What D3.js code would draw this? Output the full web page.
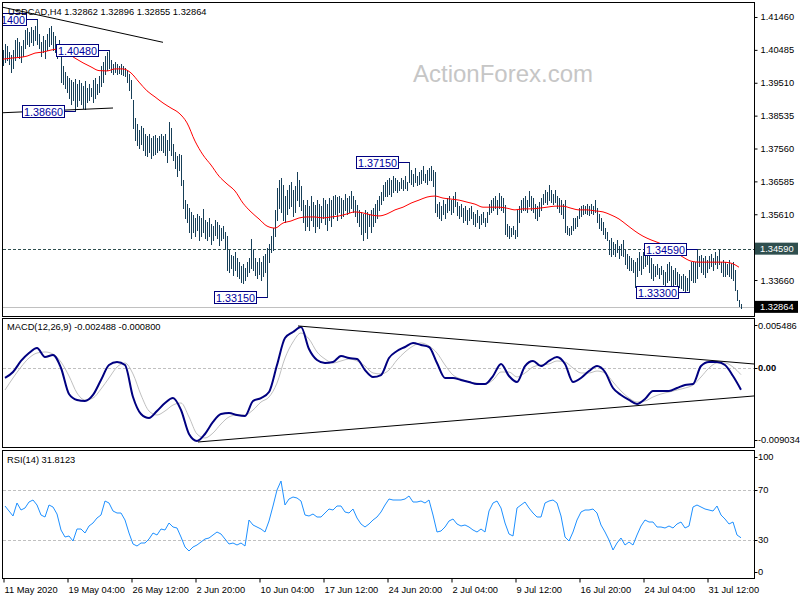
<!DOCTYPE html>
<html><head><meta charset="utf-8">
<script src="https://cdn.jsdelivr.net/npm/d3@7"></script>
<style>
body{margin:0;background:#fff}
svg{display:block}
text{font-family:"Liberation Sans",Arial,sans-serif}
</style>
</head><body>
<svg id="c" width="800" height="600"></svg>
<script>
// ---------------- DATA ----------------
const symbolTitle = "USDCAD,H4  1.32862 1.32896 1.32855 1.32864";
const macdTitle = "MACD(12,26,9) -0.002488 -0.000800";
const rsiTitle = "RSI(14) 31.8123";
const watermark = "ActionForex.com";

const highs = [
1.4048,1.4066,1.4060,1.4042,1.4033,1.4048,1.4078,1.4083,1.4072,1.4060,
1.4078,1.4107,1.4113,1.4101,1.4116,1.4107,1.4119,1.4140,1.4095,1.4072,
1.4089,1.4078,1.4095,1.4113,1.4119,1.4101,1.4089,1.4066,1.4078,1.4048,
1.4001,1.3983,1.3971,1.3965,1.3959,1.3953,1.3962,1.3947,1.3959,1.3950,
1.3941,1.3956,1.3935,1.3947,1.3935,1.3959,1.3965,1.3947,1.3971,1.4001,
1.4012,1.4030,1.4042,1.4048,1.4018,1.4007,1.4012,1.4007,1.4001,1.4007,
1.4001,1.3995,1.3989,1.3977,1.3959,1.3900,1.3846,1.3829,1.3811,1.3823,
1.3817,1.3799,1.3793,1.3799,1.3787,1.3793,1.3796,1.3787,1.3793,1.3799,
1.3793,1.3799,1.3781,1.3835,1.3817,1.3769,1.3746,1.3734,1.3740,1.3737,
1.3663,1.3603,1.3591,1.3579,1.3568,1.3559,1.3550,1.3562,1.3556,1.3550,
1.3577,1.3544,1.3538,1.3550,1.3532,1.3526,1.3544,1.3538,1.3529,1.3520,
1.3526,1.3508,1.3496,1.3455,1.3440,1.3437,1.3449,1.3431,1.3419,1.3407,
1.3413,1.3402,1.3419,1.3431,1.3488,1.3455,1.3431,1.3419,1.3431,1.3419,
1.3437,1.3443,1.3461,1.3473,1.3496,1.3520,1.3574,1.3639,1.3663,1.3668,
1.3648,1.3615,1.3633,1.3648,1.3657,1.3633,1.3645,1.3686,1.3663,1.3645,
1.3603,1.3588,1.3603,1.3585,1.3615,1.3597,1.3588,1.3603,1.3591,1.3585,
1.3609,1.3603,1.3591,1.3609,1.3603,1.3615,1.3618,1.3612,1.3615,1.3609,
1.3603,1.3621,1.3609,1.3615,1.3630,1.3615,1.3603,1.3588,1.3574,1.3568,
1.3562,1.3574,1.3568,1.3559,1.3574,1.3579,1.3591,1.3603,1.3615,1.3627,
1.3648,1.3657,1.3663,1.3668,1.3663,1.3674,1.3668,1.3663,1.3657,1.3668,
1.3663,1.3674,1.3657,1.3715,1.3692,1.3680,1.3698,1.3674,1.3686,1.3692,
1.3704,1.3680,1.3692,1.3698,1.3704,1.3692,1.3686,1.3591,1.3597,1.3585,
1.3603,1.3591,1.3609,1.3615,1.3603,1.3615,1.3627,1.3597,1.3585,1.3591,
1.3579,1.3585,1.3574,1.3579,1.3585,1.3568,1.3562,1.3574,1.3556,1.3562,
1.3568,1.3550,1.3568,1.3591,1.3603,1.3609,1.3615,1.3603,1.3624,1.3615,
1.3609,1.3588,1.3532,1.3526,1.3520,1.3526,1.3514,1.3574,1.3585,1.3603,
1.3609,1.3615,1.3603,1.3630,1.3615,1.3609,1.3591,1.3585,1.3597,1.3609,
1.3621,1.3633,1.3627,1.3648,1.3633,1.3621,1.3633,1.3615,1.3609,1.3603,
1.3591,1.3603,1.3526,1.3520,1.3526,1.3550,1.3550,1.3556,1.3579,1.3585,
1.3588,1.3585,1.3591,1.3585,1.3591,1.3585,1.3603,1.3579,1.3562,1.3550,
1.3538,1.3520,1.3508,1.3485,1.3491,1.3479,1.3473,1.3485,1.3467,1.3473,
1.3485,1.3455,1.3443,1.3437,1.3431,1.3425,1.3419,1.3431,1.3449,1.3437,
1.3449,1.3455,1.3461,1.3443,1.3431,1.3413,1.3407,1.3413,1.3402,1.3407,
1.3396,1.3390,1.3413,1.3419,1.3407,1.3396,1.3402,1.3390,1.3384,1.3378,
1.3384,1.3378,1.3372,1.3396,1.3419,1.3419,1.3419,1.3459,1.3437,1.3440,
1.3431,1.3437,1.3425,1.3437,1.3443,1.3431,1.3449,1.3437,1.3455,1.3419,
1.3425,1.3419,1.3413,1.3425,1.3413,1.3419,1.3396,1.3336,1.3307,1.3295
];
const lows = [
1.4004,1.4012,1.4018,1.4007,1.3983,1.3995,1.4018,1.4030,1.4024,1.4012,
1.4030,1.4054,1.4066,1.4060,1.4072,1.4063,1.4078,1.4066,1.4054,1.4030,
1.4042,1.4024,1.4048,1.4060,1.4066,1.4048,1.4042,1.4024,1.4030,1.3953,
1.3947,1.3935,1.3924,1.3906,1.3888,1.3900,1.3866,1.3882,1.3900,1.3888,
1.3876,1.3873,1.3894,1.3900,1.3912,1.3894,1.3906,1.3918,1.3924,1.3941,
1.3953,1.3977,1.3989,1.3995,1.3983,1.3977,1.3983,1.3977,1.3980,1.3977,
1.3974,1.3971,1.3953,1.3930,1.3906,1.3817,1.3781,1.3766,1.3758,1.3769,
1.3752,1.3737,1.3734,1.3746,1.3728,1.3737,1.3740,1.3746,1.3752,1.3752,
1.3746,1.3737,1.3716,1.3752,1.3737,1.3722,1.3698,1.3674,1.3692,1.3648,
1.3579,1.3550,1.3538,1.3508,1.3491,1.3508,1.3496,1.3514,1.3485,1.3496,
1.3508,1.3491,1.3485,1.3496,1.3473,1.3485,1.3499,1.3491,1.3470,1.3485,
1.3491,1.3461,1.3396,1.3390,1.3402,1.3381,1.3396,1.3378,1.3372,1.3360,
1.3357,1.3366,1.3378,1.3390,1.3402,1.3396,1.3381,1.3372,1.3384,1.3366,
1.3378,1.3390,1.3315,1.3419,1.3449,1.3455,1.3496,1.3544,1.3579,1.3568,
1.3544,1.3538,1.3562,1.3579,1.3585,1.3556,1.3568,1.3603,1.3585,1.3574,
1.3538,1.3514,1.3526,1.3514,1.3544,1.3526,1.3508,1.3526,1.3520,1.3538,
1.3550,1.3532,1.3514,1.3544,1.3526,1.3550,1.3562,1.3544,1.3568,1.3550,
1.3556,1.3574,1.3562,1.3568,1.3579,1.3568,1.3556,1.3538,1.3526,1.3502,
1.3485,1.3508,1.3491,1.3526,1.3508,1.3526,1.3538,1.3550,1.3574,1.3591,
1.3603,1.3615,1.3615,1.3621,1.3615,1.3627,1.3633,1.3627,1.3633,1.3639,
1.3633,1.3639,1.3633,1.3657,1.3651,1.3645,1.3657,1.3648,1.3651,1.3654,
1.3663,1.3657,1.3651,1.3663,1.3663,1.3645,1.3568,1.3556,1.3550,1.3544,
1.3562,1.3550,1.3568,1.3574,1.3562,1.3568,1.3585,1.3559,1.3550,1.3556,
1.3538,1.3544,1.3532,1.3544,1.3550,1.3532,1.3526,1.3538,1.3520,1.3532,
1.3538,1.3526,1.3538,1.3562,1.3568,1.3574,1.3579,1.3562,1.3579,1.3574,
1.3568,1.3502,1.3496,1.3491,1.3496,1.3502,1.3491,1.3496,1.3538,1.3568,
1.3574,1.3574,1.3568,1.3585,1.3574,1.3568,1.3550,1.3544,1.3556,1.3574,
1.3591,1.3597,1.3591,1.3603,1.3597,1.3591,1.3597,1.3579,1.3568,1.3562,
1.3550,1.3508,1.3502,1.3499,1.3502,1.3514,1.3520,1.3526,1.3550,1.3556,
1.3562,1.3565,1.3562,1.3559,1.3565,1.3562,1.3568,1.3538,1.3520,1.3514,
1.3502,1.3491,1.3485,1.3443,1.3437,1.3443,1.3437,1.3449,1.3431,1.3440,
1.3437,1.3413,1.3402,1.3396,1.3396,1.3390,1.3345,1.3378,1.3396,1.3384,
1.3402,1.3407,1.3413,1.3390,1.3372,1.3366,1.3378,1.3384,1.3372,1.3384,
1.3354,1.3342,1.3360,1.3366,1.3342,1.3336,1.3354,1.3336,1.3345,1.3342,
1.3336,1.3333,1.3336,1.3330,1.3366,1.3360,1.3360,1.3372,1.3407,1.3390,
1.3384,1.3375,1.3390,1.3402,1.3407,1.3396,1.3413,1.3402,1.3413,1.3390,
1.3378,1.3378,1.3384,1.3378,1.3372,1.3366,1.3336,1.3307,1.3289,1.3283
];

// moving average (red), one value every 4 bars from bar 0
const emaValues = [
1.4021,1.4024,1.4026,1.4030,1.4039,1.4042,1.4048,1.4051,1.4039,1.4024,
1.4010,1.3998,1.3987,1.3986,1.3992,1.3992,1.3980,1.3953,1.3927,1.3909,
1.3891,1.3876,1.3861,1.3832,1.3778,1.3737,1.3707,1.3674,1.3651,1.3630,
1.3594,1.3568,1.3547,1.3526,1.3520,1.3535,1.3541,1.3550,1.3553,1.3553,
1.3550,1.3553,1.3556,1.3562,1.3568,1.3565,1.3559,1.3556,1.3562,1.3574,
1.3582,1.3594,1.3603,1.3612,1.3615,1.3609,1.3606,1.3603,1.3597,1.3591,
1.3582,1.3582,1.3582,1.3579,1.3574,1.3577,1.3577,1.3579,1.3582,1.3585,
1.3585,1.3579,1.3574,1.3574,1.3571,1.3568,1.3559,1.3547,1.3529,1.3511,
1.3496,1.3485,1.3476,1.3464,1.3449,1.3434,1.3422,1.3419,1.3419,1.3419,
1.3419,1.3416,1.3404
];

// MACD main and signal, one value every 4 bars from bar 1
const macdMain = [
-0.00117,-0.00050,0.00074,0.00163,0.00220,0.00119,0.00141,-0.00005,-0.00297,-0.00364,
-0.00376,-0.00308,-0.00140,0.00029,0.00062,0.00029,-0.00331,-0.00522,-0.00567,-0.00488,
-0.00398,-0.00342,-0.00477,-0.00746,-0.00825,-0.00746,-0.00611,-0.00522,-0.00510,-0.00533,
-0.00544,-0.00376,-0.00342,-0.00275,0.00029,0.00332,0.00399,0.00455,0.00208,0.00085,
0.00051,0.00062,0.00130,0.00107,0.00096,-0.00028,-0.00106,-0.00084,0.00107,0.00186,
0.00231,0.00276,0.00253,0.00231,0.00051,-0.00117,-0.00117,-0.00140,-0.00162,-0.00185,
-0.00185,-0.00095,0.00040,-0.00095,-0.00162,0.00017,0.00074,0.00017,0.00074,0.00119,
0.00040,-0.00162,-0.00117,-0.00039,0.00017,-0.00050,-0.00230,-0.00308,-0.00364,-0.00409,
-0.00353,-0.00263,-0.00263,-0.00263,-0.00230,-0.00196,-0.00185,0.00017,0.00062,0.00062,
0.00029,-0.00095,-0.002488
];
const macdSignal = [
-0.00252,-0.00117,0.00006,0.00107,0.00163,0.00175,0.00152,0.00062,-0.00095,-0.00286,
-0.00364,-0.00342,-0.00241,-0.00117,0.00006,0.00051,-0.00072,-0.00308,-0.00488,-0.00533,
-0.00488,-0.00421,-0.00398,-0.00555,-0.00746,-0.00791,-0.00735,-0.00634,-0.00555,-0.00533,
-0.00533,-0.00477,-0.00387,-0.00331,-0.00174,0.00107,0.00287,0.00388,0.00321,0.00175,
0.00096,0.00051,0.00074,0.00096,0.00074,0.00017,-0.00061,-0.00072,-0.00028,0.00085,
0.00175,0.00242,0.00276,0.00242,0.00163,0.00029,-0.00084,-0.00129,-0.00162,-0.00174,
-0.00185,-0.00140,-0.00050,-0.00050,-0.00106,-0.00061,0.00006,0.00029,0.00040,0.00074,
0.00062,-0.00005,-0.00061,-0.00061,-0.00039,-0.00061,-0.00162,-0.00263,-0.00342,-0.00387,
-0.00376,-0.00331,-0.00297,-0.00275,-0.00252,-0.00230,-0.00196,-0.00106,-0.00005,0.00051,
0.00051,0.00006,-0.00080
];

// RSI(14), one value every 2 bars from bar 1
const rsiValues = [
57.2,53.2,49.2,59.6,54.0,55.6,60.4,62.0,58.0,50.0,
48.4,58.0,56.4,50.8,38.0,32.4,33.2,29.2,38.8,38.8,
35.6,41.2,43.6,47.6,50.0,61.2,59.6,53.2,51.6,51.6,
46.0,35.6,26.8,25.2,27.6,27.6,30.8,35.6,34.0,38.8,
38.0,43.6,40.4,39.6,32.4,24.4,21.2,24.4,26.0,28.4,
30.8,31.6,34.0,36.4,34.8,30.8,26.8,27.6,26.0,27.6,
25.2,46.0,42.0,40.4,38.8,36.4,45.2,57.2,70.0,77.2,
58.0,62.8,64.4,63.6,61.2,50.0,49.2,50.8,48.4,48.4,
51.6,54.8,54.0,57.2,57.2,52.4,51.6,54.8,47.6,42.8,
40.4,42.8,46.0,48.4,52.4,58.0,62.8,62.0,62.0,62.0,
62.8,65.2,60.4,60.4,61.2,59.6,62.0,50.0,36.4,37.2,
40.4,45.2,46.8,42.8,41.2,42.0,40.4,38.0,36.4,38.8,
36.4,53.2,59.6,61.2,55.6,43.6,34.8,33.2,55.6,58.0,
60.4,55.6,51.6,48.4,48.4,59.6,61.2,62.0,59.6,49.2,
32.4,29.2,36.4,46.0,52.4,54.0,54.0,54.8,51.6,42.0,
36.4,30.0,22.0,27.6,31.6,26.0,28.4,26.0,34.0,41.2,
46.0,44.4,44.4,40.4,40.4,39.6,41.2,39.6,42.8,44.4,
39.6,41.2,56.4,58.0,56.4,54.8,54.0,53.2,57.2,50.0,
46.8,42.8,44.4,34.0,31.8
];

const timeLabels = ["11 May 2020","19 May 04:00","26 May 12:00","2 Jun 20:00","10 Jun 04:00","17 Jun 12:00",
  "24 Jun 20:00","2 Jul 04:00","9 Jul 12:00","16 Jul 20:00","24 Jul 04:00","31 Jul 12:00"];
const timeTickBars = [0,32,64,96,128,160,192,224,256,288,320,352];

const priceTicks = [1.41460,1.40485,1.39510,1.38535,1.37560,1.36585,1.35610,1.33660];
const levelPrice = 1.34590;
const lastPrice = 1.32864;
const macdTicks = [0.005486, 0, -0.009034];
const rsiTicks = [100,70,30,0];
const rsiLevels = [70,30];

const priceLabels = [
  {value:1.41400, bar:17},{value:1.40480, bar:53},{value:1.38660, bar:36},
  {value:1.33150, bar:132},{value:1.37150, bar:203},{value:1.34590, bar:347},{value:1.33300, bar:343}
];
const priceTrendLines = [
  {b0:0, v0:1.41748, b1:80, v1:1.40709},
  {b0:0, v0:1.38621, b1:55, v1:1.38761}
];
const macdTrendLines = [
  {b0:147.5, v0:0.00467, b1:375.5, v1:0.00040},
  {b0:97.5, v0:-0.00836, b1:375.5, v1:-0.00319}
];

// ---------------- DRAW ----------------
const svg = d3.select("#c");
const FS = 9.3;
const x = d3.scaleLinear().domain([0, 375.5]).range([3, 754]);
const yP = d3.scaleLinear().domain([1.32593, 1.41875]).range([316, 3]);
const yM = d3.scaleLinear().domain([-0.009034, 0.005486]).range([448, 318.7]);
const yR = d3.scaleLinear().domain([0, 100]).range([577.5, 452.5]);

const defs = svg.append("defs");
function clip(id, y0, y1){
  defs.append("clipPath").attr("id", id).append("rect")
    .attr("x", 3).attr("y", y0).attr("width", 751).attr("height", y1 - y0);
  return svg.append("g").attr("clip-path", `url(#${id})`);
}
const gMain = clip("cm", 3, 316);
const gMacd = clip("cd", 319, 448);
const gRsi = clip("cr", 451, 578);

// watermark
gMain.append("text").attr("x", 413).attr("y", 82).attr("font-size", 24)
  .attr("fill", "#c6c6c6").text(watermark);

// level line and bid line
gMain.append("line").attr("x1", 3).attr("x2", 754)
  .attr("y1", Math.round(yP(levelPrice)) + 0.5).attr("y2", Math.round(yP(levelPrice)) + 0.5)
  .attr("stroke", "#2f4f4f").attr("stroke-dasharray", "3,2");
gMain.append("line").attr("x1", 3).attr("x2", 754)
  .attr("y1", Math.round(yP(lastPrice)) + 0.5).attr("y2", Math.round(yP(lastPrice)) + 0.5)
  .attr("stroke", "#c0c0c0");

// bars
gMain.append("g").selectAll("line").data(highs).join("line")
  .attr("x1", (d,i) => Math.round(x(i)) + 0.5).attr("x2", (d,i) => Math.round(x(i)) + 0.5)
  .attr("y1", d => Math.round(yP(d)))
  .attr("y2", (d,i) => Math.max(Math.round(yP(lows[i])), Math.round(yP(d)) + 1) + 1)
  .attr("stroke", "#173f58").attr("stroke-width", 1).attr("shape-rendering", "crispEdges");

// moving average
gMain.append("path").datum(emaValues)
  .attr("d", d3.line().curve(d3.curveMonotoneX).x((d,i) => x(i * 4)).y(d => yP(d)))
  .attr("fill", "none").attr("stroke", "#ff0000").attr("stroke-width", 1);

// trend lines
gMain.selectAll("line.tl").data(priceTrendLines).join("line").attr("class", "tl")
  .attr("x1", d => x(d.b0)).attr("y1", d => yP(d.v0))
  .attr("x2", d => x(d.b1)).attr("y2", d => yP(d.v1))
  .attr("stroke", "#000").attr("stroke-width", 1);

// price labels
const lab = gMain.append("g").selectAll("g").data(priceLabels).join("g");
lab.append("line")
  .attr("x1", d => x(d.bar) - 10).attr("x2", d => x(d.bar) + 0.5)
  .attr("y1", d => Math.round(yP(d.value)) + 0.5).attr("y2", d => Math.round(yP(d.value)) + 0.5)
  .attr("stroke", "#000080");
lab.append("rect")
  .attr("x", d => x(d.bar) - 52.5).attr("y", d => Math.round(yP(d.value)) - 5.5)
  .attr("width", 42).attr("height", 12)
  .attr("fill", "#fff").attr("stroke", "#000080");
lab.append("text")
  .attr("x", d => x(d.bar) - 51).attr("y", d => Math.round(yP(d.value)) + 4.5)
  .attr("font-size", 10.8).attr("fill", "#0000a0")
  .text(d => d.value.toFixed(5));

// title
svg.append("text").attr("x", 8).attr("y", 15).attr("font-size", FS).attr("fill", "#000").text(symbolTitle);

// MACD
gMacd.append("line").attr("x1", 3).attr("x2", 754)
  .attr("y1", Math.round(yM(0)) + 0.5).attr("y2", Math.round(yM(0)) + 0.5)
  .attr("stroke", "#c0c0c0").attr("stroke-dasharray", "3,2");
gMacd.append("path").datum(macdSignal)
  .attr("d", d3.line().curve(d3.curveMonotoneX).x((d,i) => x(1 + i * 4)).y(d => yM(d)))
  .attr("fill", "none").attr("stroke", "#c0c0c0").attr("stroke-width", 1);
gMacd.append("path").datum(macdMain)
  .attr("d", d3.line().curve(d3.curveMonotoneX).x((d,i) => x(1 + i * 4)).y(d => yM(d)))
  .attr("fill", "none").attr("stroke", "#000080").attr("stroke-width", 2);
gMacd.selectAll("line.tl").data(macdTrendLines).join("line").attr("class", "tl")
  .attr("x1", d => x(d.b0)).attr("y1", d => yM(d.v0))
  .attr("x2", d => x(d.b1)).attr("y2", d => yM(d.v1))
  .attr("stroke", "#000").attr("stroke-width", 1);
svg.append("text").attr("x", 7).attr("y", 330).attr("font-size", FS).text(macdTitle);

// RSI
gRsi.selectAll("line.lv").data(rsiLevels).join("line").attr("class", "lv")
  .attr("x1", 3).attr("x2", 754)
  .attr("y1", d => Math.round(yR(d)) + 0.5).attr("y2", d => Math.round(yR(d)) + 0.5)
  .attr("stroke", "#c0c0c0").attr("stroke-dasharray", "3,2");
gRsi.append("path").datum(rsiValues)
  .attr("d", d3.line().x((d,i) => x(1 + i * 2)).y(d => yR(d)))
  .attr("fill", "none").attr("stroke", "#1e90ff").attr("stroke-width", 1);
svg.append("text").attr("x", 7).attr("y", 463).attr("font-size", FS).text(rsiTitle);

// panel frames
[[2.5, 316.5], [318.5, 447.5], [450.5, 578.5]].forEach(([a, b]) => {
  svg.append("rect").attr("x", 2.5).attr("y", a).attr("width", 752).attr("height", b - a)
    .attr("fill", "none").attr("stroke", "#000");
});

// right price axis
const ax = svg.append("g").attr("transform", "translate(754.5,0)")
  .call(d3.axisRight(yP).tickValues(priceTicks).tickFormat(d3.format(".5f")).tickSize(3).tickPadding(3));
ax.select(".domain").remove();
ax.selectAll("text").attr("font-size", FS).attr("font-family", null).attr("fill", "#000");
ax.selectAll("line").attr("stroke", "#000");

// highlighted level & last price labels
[[levelPrice, "#2f4f4f"], [lastPrice, "#000"]].forEach(([v, c]) => {
  const yy = yP(v);
  svg.append("rect").attr("x", 755).attr("y", yy - 6).attr("width", 43).attr("height", 12).attr("fill", c);
  svg.append("text").attr("x", 760).attr("y", yy + 3.4).attr("font-size", FS).attr("fill", "#fff").text(v.toFixed(5));
});

// MACD axis
macdTicks.forEach((v, i) => {
  let yy = yM(v);
  if (i === 0) yy += 6.5;
  if (i === macdTicks.length - 1) yy -= 8;
  svg.append("line").attr("x1", 754.5).attr("x2", 757.5).attr("y1", Math.round(yy) + 0.5).attr("y2", Math.round(yy) + 0.5).attr("stroke", "#000");
  const t = v === 0 ? "0.00" : v.toFixed(6);
  svg.append("text").attr("x", 758).attr("y", yy + 3.4).attr("font-size", FS)
    .attr("font-weight", v === 0 ? "bold" : null).text(t);
});

// RSI axis
rsiTicks.forEach(v => {
  let yy = yR(v);
  if (v === 100) yy += 4.5;
  if (v === 0) yy -= 5.5;
  svg.append("line").attr("x1", 754.5).attr("x2", 757.5).attr("y1", Math.round(yy) + 0.5).attr("y2", Math.round(yy) + 0.5).attr("stroke", "#000");
  svg.append("text").attr("x", 758).attr("y", yy + 3.4).attr("font-size", FS).text(v);
});

// time axis
const tx = svg.append("g").attr("transform", "translate(0.5,578.5)")
  .call(d3.axisBottom(x).tickValues(timeTickBars).tickFormat((d, i) => timeLabels[i]).tickSize(4));
tx.select(".domain").remove();
tx.selectAll("line").attr("stroke", "#000");
tx.selectAll("text").attr("font-size", FS).attr("font-family", null).attr("fill", "#000")
  .attr("text-anchor", "start").attr("dy", null).attr("y", 14).attr("x", 0.5);
</script>
</body></html>
